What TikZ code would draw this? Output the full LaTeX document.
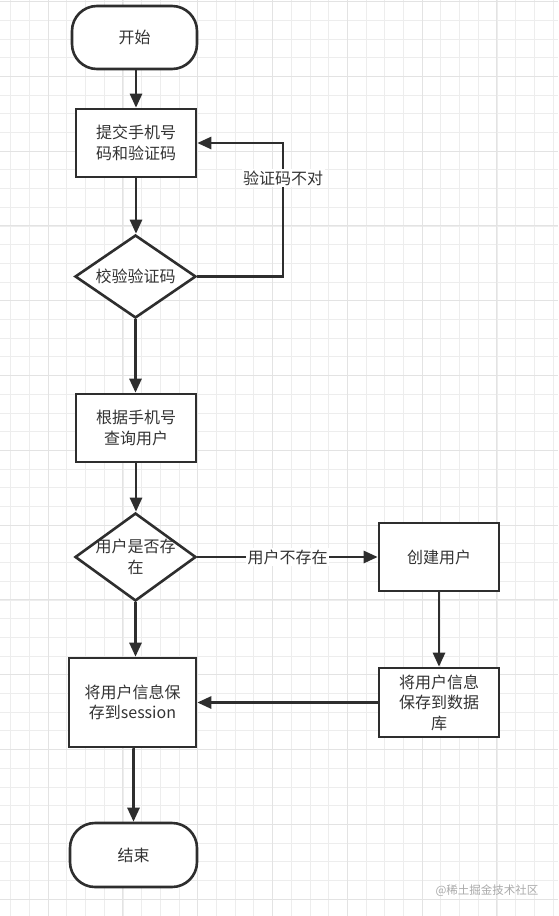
\documentclass[tikz,border=0pt]{standalone}
\usepackage{fontspec}
\setmainfont{Noto Sans CJK SC}
\usetikzlibrary{shapes.geometric,arrows.meta}
\definecolor{ln}{HTML}{2E2E2E}
\definecolor{txt}{HTML}{333333}
\definecolor{gmin}{HTML}{EDEDED}
\definecolor{gmaj}{HTML}{E3E3E3}
\definecolor{wm}{HTML}{AAAAAA}
\begin{document}
\begin{tikzpicture}[x=1pt,y=-1pt,
  every node/.style={font=\fontsize{16}{20.5}\selectfont, text=txt},
  box/.style={draw=ln, line width=2.6pt, fill=white, rectangle, inner sep=0pt, align=center},
  term/.style={box, rounded corners=25pt},
  dia/.style={draw=ln, line width=2.6pt, fill=white, diamond, inner sep=0pt, aspect=1.46},
  conn/.style={draw=ln, line width=2.6pt, -{Triangle[length=14pt,width=12pt]}},
  elab/.style={fill=white, inner sep=1.5pt},
  gridmin/.style={draw=gmin, line width=0.8pt},
  gridmaj/.style={draw=gmaj, line width=0.9pt}]
\useasboundingbox (0,0) rectangle (558,916);
\fill[white] (0,0) rectangle (558,916);
% grid
\foreach \i in {0,...,29} {
  \pgfmathsetmacro\xx{10.7+18.7*\i}
  \draw[gridmin] (\xx,0) -- (\xx,916);
}
\foreach \i in {0,...,49} {
  \pgfmathsetmacro\yy{1.5+18.7*\i}
  \draw[gridmin] (0,\yy) -- (558,\yy);
}
\foreach \i in {2,6,...,26} {
  \pgfmathsetmacro\xx{10.7+18.7*\i}
  \draw[gridmaj] (\xx,0) -- (\xx,916);
}
\foreach \i in {0,4,...,48} {
  \pgfmathsetmacro\yy{1.5+18.7*\i}
  \draw[gridmaj] (0,\yy) -- (558,\yy);
}
% nodes
\node[term, minimum width=125pt, minimum height=63pt] (start) at (134.5,37.5) {开始};
\node[box, minimum width=120pt, minimum height=68pt] (b1) at (136,143) {提交手机号\\码和验证码};
\node[dia, minimum width=121pt, minimum height=83pt] (d1) at (135.5,276.5) {校验验证码};
\node[box, minimum width=120pt, minimum height=68pt] (b2) at (136,428) {根据手机号\\查询用户};
\node[dia, minimum width=121pt, minimum height=88pt,
  label={[align=center]center:用户是否存\\在}] (d2) at (135.5,557) {};
\node[box, minimum width=120pt, minimum height=68pt] (create) at (439,557) {创建用户};
\node[box, minimum width=120pt, minimum height=69pt] (db) at (439,702.5) {将用户信息\\保存到数据\\库};
\node[box, minimum width=127pt, minimum height=89pt] (sess) at (132.5,702.5) {将用户信息保\\存到session};
\node[term, minimum width=127pt, minimum height=64pt] (end) at (133.5,855) {结束};
\coordinate (lp) at (283,178);
% connectors
\draw[conn] (start.south -| b1.north) -- (b1.north);
\draw[conn] (b1.south) -- (b1.south |- d1.north);
\draw[conn] (d1.east) -| (lp) |- (b1.east);
\node[elab] (lab1) at (lp) {验证码不对};
\draw[conn] (d1.south) -- (d1.south |- b2.north);
\draw[conn] (b2.south) -- (b2.south |- d2.north);
\draw[conn] (d2.east) -- node[elab] (lab2) {用户不存在} (create.west);
\draw[conn] (create.south) -- (db.north);
\draw[conn] (db.west) -- (sess.east);
\draw[conn] (d2.south) -- (d2.south |- sess.north);
\draw[conn] (sess.south) -- (sess.south -| end.north) -- (end.north);
% watermark
\node[font=\fontsize{11.5}{13}\selectfont, text=wm] (wmk) at (487,891) {@稀土掘金技术社区};
\end{tikzpicture}
\end{document}
